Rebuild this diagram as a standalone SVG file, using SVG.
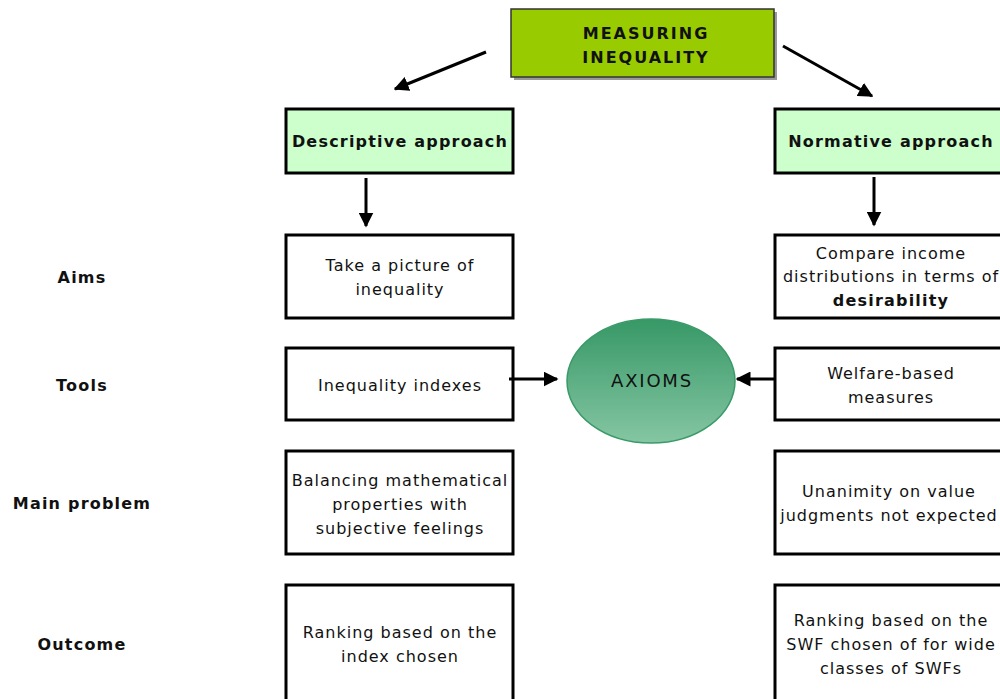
<svg xmlns="http://www.w3.org/2000/svg" width="1000" height="699" viewBox="0 0 1000 699">
<defs>
<linearGradient id="g" x1="0" y1="0" x2="0" y2="1">
<stop offset="0" stop-color="#379866"/>
<stop offset="1" stop-color="#85C6A3"/>
</linearGradient>
<marker id="ah" viewBox="0 0 10 10" refX="9" refY="5" markerWidth="5" markerHeight="5" markerUnits="strokeWidth" orient="auto">
<path d="M0,0 L10,5 L0,10 z" fill="#000"/>
</marker>
</defs>
<style>
text{font-family:"DejaVu Sans",Verdana,sans-serif;font-size:16px;letter-spacing:1px;fill:#111;text-anchor:middle}
.b{font-weight:bold;letter-spacing:1.2px}
.box{fill:#fff;stroke:#000;stroke-width:3}
.hd{fill:#CCFFCC;stroke:#000;stroke-width:3}
.c{stroke:#000;stroke-width:3;fill:none;marker-end:url(#ah)}
</style>
<rect width="1000" height="699" fill="#fff"/>
<g id="top">
<rect x="514" y="12" width="263" height="68" fill="#999"/>
<rect x="511" y="9" width="263" height="68" fill="#99CC00" stroke="#333" stroke-width="1.5"/>
<text class="b" x="646" y="39" style="letter-spacing:2px">MEASURING</text>
<text class="b" x="646" y="63" style="letter-spacing:2px">INEQUALITY</text>
</g>
<g id="descriptive">
<rect class="hd" x="286" y="109" width="227" height="64"/>
<text class="b" x="400" y="147">Descriptive approach</text>
</g>
<g id="normative">
<rect class="hd" x="775" y="109" width="227" height="64"/>
<text class="b" x="891" y="147">Normative approach</text>
</g>
<g id="label-aims"><text class="b" x="82" y="283">Aims</text></g>
<g id="label-tools"><text class="b" x="82" y="391">Tools</text></g>
<g id="label-main"><text class="b" x="82" y="509">Main problem</text></g>
<g id="label-outcome"><text class="b" x="82" y="650">Outcome</text></g>
<g id="aims-left">
<rect class="box" x="286" y="235" width="227" height="83"/>
<text x="400" y="271">Take a picture of</text>
<text x="400" y="295">inequality</text>
</g>
<g id="aims-right">
<rect class="box" x="775" y="235" width="227" height="83"/>
<text x="891" y="259">Compare income</text>
<text x="891" y="282">distributions in terms of</text>
<text class="b" x="891" y="306">desirability</text>
</g>
<g id="tools-left">
<rect class="box" x="286" y="348" width="227" height="72"/>
<text x="400" y="391">Inequality indexes</text>
</g>
<g id="tools-right">
<rect class="box" x="775" y="348" width="227" height="72"/>
<text x="891" y="379">Welfare-based</text>
<text x="891" y="403">measures</text>
</g>
<g id="axioms">
<ellipse cx="651" cy="381" rx="84" ry="62" fill="url(#g)" stroke="#3A9A68" stroke-width="1.5"/>
<text x="652" y="387" style="font-size:18px;letter-spacing:1.8px">AXIOMS</text>
</g>
<g id="main-left">
<rect class="box" x="286" y="451" width="227" height="103"/>
<text x="400" y="486">Balancing mathematical</text>
<text x="400" y="510">properties with</text>
<text x="400" y="534">subjective feelings</text>
</g>
<g id="main-right">
<rect class="box" x="775" y="451" width="227" height="103"/>
<text x="889" y="497">Unanimity on value</text>
<text x="889" y="521">judgments not expected</text>
</g>
<g id="outcome-left">
<rect class="box" x="286" y="585" width="227" height="130"/>
<text x="400" y="638">Ranking based on the</text>
<text x="400" y="662">index chosen</text>
</g>
<g id="outcome-right">
<rect class="box" x="775" y="585" width="227" height="130"/>
<text x="891" y="626">Ranking based on the</text>
<text x="891" y="650">SWF chosen of for wide</text>
<text x="891" y="674">classes of SWFs</text>
</g>
<g id="connectors">
<line class="c" x1="486" y1="52" x2="395" y2="89"/>
<line class="c" x1="783" y1="46" x2="872" y2="96"/>
<line class="c" x1="366" y1="178" x2="366" y2="226"/>
<line class="c" x1="874" y1="177" x2="874" y2="225"/>
<line class="c" x1="509" y1="379" x2="557" y2="379"/>
<line class="c" x1="775" y1="379" x2="737" y2="379"/>
</g>
</svg>
